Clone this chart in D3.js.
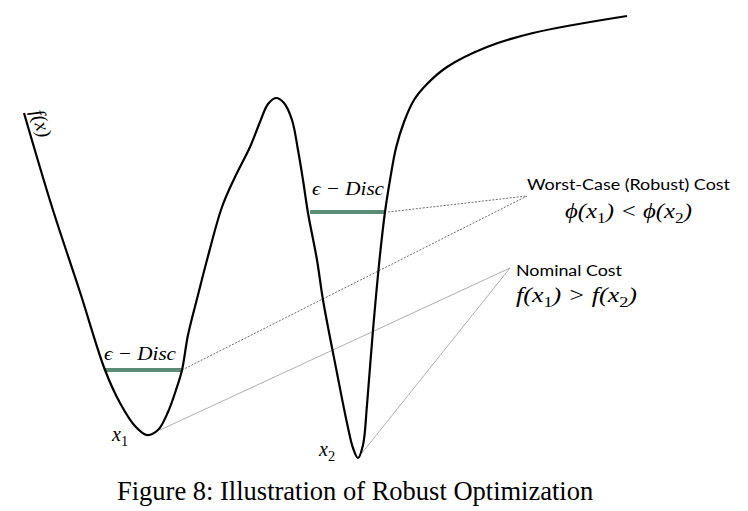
<!DOCTYPE html>
<html>
<head>
<meta charset="utf-8">
<script src="https://cdn.jsdelivr.net/npm/d3@7"></script>
<style>
body { margin: 0; background: #fff; }
svg { display: block; }
.math { font-family: "Liberation Serif", "Times New Roman", Times, serif; font-style: italic; }
.sans { font-family: Lato, "Open Sans", sans-serif; }
</style>
</head>
<body>
<svg id="fig" width="748" height="511"></svg>
<script>
// curve (x in units, f(x) in units)
var curveX = [0, 0.56, 1.12, 1.62, 1.92, 2.22, 2.46, 2.68, 2.88, 3.04, 3.16, 3.28, 3.48, 3.66, 3.96,
  4.22, 4.52, 4.72, 4.88, 5.04, 5.2, 5.36, 5.48, 5.58, 5.68, 5.86, 5.98, 6.26, 6.46, 6.58, 6.68,
  6.78, 6.86, 6.98, 7.12, 7.22, 7.32, 7.44, 7.6, 7.8, 8.06, 8.46, 9.26, 10.18, 12.06];
var curveF = [6.9, 5.02, 3.32, 1.76, 1.1, 0.64, 0.46, 0.56, 0.92, 1.36, 1.76, 2.46, 3.26, 3.96, 5.02,
  5.62, 6.22, 6.72, 7.08, 7.2, 7.1, 6.76, 6.16, 5.56, 4.9, 3.96, 3.16, 1.7, 0.7, 0.2, 0,
  0.26, 1.06, 2.56, 4.06, 4.92, 5.56, 6.2, 6.72, 7.16, 7.48, 7.82, 8.22, 8.5, 8.84];

// epsilon discs: level, left, right
var discLevel = [4.92, 1.76];
var discLeft = [5.72, 1.62];
var discRight = [7.22, 3.16];

// leader lines: from point -> to label anchor
var worstFromX = [7.28, 3.16], worstFromF = [4.92, 1.76];
var worstTo = [10.06, 5.24];
var nominalFromX = [2.72, 6.76], nominalFromF = [0.56, 0.1];
var nominalTo = [9.72, 3.8];

var svg = d3.select("#fig");
var x = d3.scaleLinear().domain([0, 12]).range([24, 624]);
var y = d3.scaleLinear().domain([0, 9]).range([458, 8]);

var pts = curveX.map(function(d, i) { return [d, curveF[i]]; });

// leader lines first so curve sits over them
var lines = svg.append("g");
worstFromX.forEach(function(d, i) {
  lines.append("line")
    .attr("x1", x(d)).attr("y1", y(worstFromF[i]))
    .attr("x2", x(worstTo[0])).attr("y2", y(worstTo[1]))
    .attr("stroke", "#444").attr("stroke-width", 0.8)
    .attr("stroke-dasharray", "2,1.5");
});
nominalFromX.forEach(function(d, i) {
  lines.append("line")
    .attr("x1", x(d)).attr("y1", y(nominalFromF[i]))
    .attr("x2", x(nominalTo[0])).attr("y2", y(nominalTo[1]))
    .attr("stroke", "#999").attr("stroke-width", 0.8);
});

// discs
svg.append("g").selectAll("line")
  .data(discLevel)
  .enter()
  .append("line")
  .attr("x1", function(d, i) { return x(discLeft[i]); })
  .attr("x2", function(d, i) { return x(discRight[i]); })
  .attr("y1", function(d) { return y(d); })
  .attr("y2", function(d) { return y(d); })
  .attr("stroke", "#5b8c78").attr("stroke-width", 4);

// the curve
svg.append("path")
  .datum(pts)
  .attr("d", d3.line().x(function(d) { return x(d[0]); }).y(function(d) { return y(d[1]); }).curve(d3.curveCatmullRom.alpha(0.5)))
  .attr("fill", "none").attr("stroke", "#000").attr("stroke-width", 2.2);

// f(x) label along the left branch
svg.append("text").attr("class", "math")
  .attr("transform", "translate(31,112) rotate(73)")
  .attr("font-size", 20).text("f(x)");

// disc labels
function discLabel(cx, cy) {
  svg.append("text").attr("class", "math")
    .attr("x", cx).attr("y", cy).attr("font-size", 19)
    .attr("textLength", 72).attr("lengthAdjust", "spacingAndGlyphs")
    .text("\u03f5 \u2212 Disc");
}
discLabel(312, 195);
discLabel(104, 360);

// x1, x2 labels
function subLabel(tx, ty, base, sub, size) {
  var t = svg.append("text").attr("class", "math").attr("x", tx).attr("y", ty).attr("font-size", size);
  t.append("tspan").text(base);
  t.append("tspan").attr("font-style", "normal").attr("font-size", size * 0.72).attr("dy", 5).text(sub);
  return t;
}
subLabel(112, 441, "x", "1", 20);
subLabel(319, 456, "x", "2", 20);

// right side annotations
svg.append("text").attr("class", "sans").attr("x", 527).attr("y", 190)
  .attr("font-size", 15.5).attr("textLength", 203).attr("lengthAdjust", "spacingAndGlyphs")
  .text("Worst-Case (Robust) Cost");

function ineq(tx, ty, fn, op, w) {
  var t = svg.append("text").attr("class", "math").attr("x", tx).attr("y", ty).attr("font-size", 20)
    .attr("textLength", w).attr("lengthAdjust", "spacingAndGlyphs");
  t.append("tspan").text(fn + "(x");
  t.append("tspan").attr("font-style", "normal").attr("font-size", 14).attr("dy", 5).text("1");
  t.append("tspan").attr("dy", -5).text(") " + op + " " + fn + "(x");
  t.append("tspan").attr("font-style", "normal").attr("font-size", 14).attr("dy", 5).text("2");
  t.append("tspan").attr("dy", -5).text(")");
}
ineq(565, 218, "\u03d5", "<", 127);

svg.append("text").attr("class", "sans").attr("x", 516).attr("y", 276)
  .attr("font-size", 15.5).attr("textLength", 106).attr("lengthAdjust", "spacingAndGlyphs")
  .text("Nominal Cost");
ineq(516, 302, "f", ">", 121);

// caption
svg.append("text").attr("x", 117).attr("y", 500)
  .style("font-family", "'Liberation Serif', 'Times New Roman', Times, serif")
  .style("font-size", "26.5px")
  .text("Figure 8: Illustration of Robust Optimization");
</script>
</body>
</html>
